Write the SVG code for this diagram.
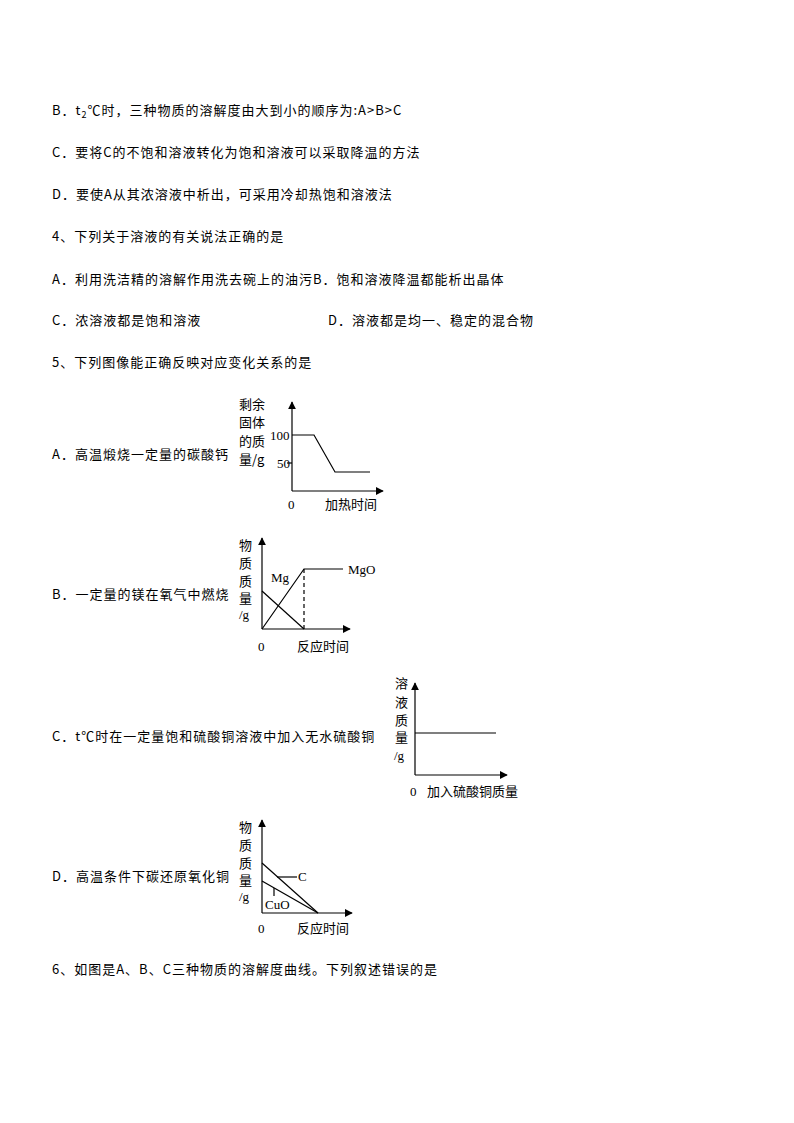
<svg xmlns="http://www.w3.org/2000/svg" width="794" height="1123" viewBox="0 0 794 1123">
<defs>
<style>
text{font-family:"Liberation Serif","Noto Sans CJK SC",serif;font-size:13px;fill:#000}
.c{font-family:"Noto Sans CJK SC",sans-serif;font-size:13px}
.m{letter-spacing:1px}
.l{stroke:#000;stroke-width:1.2;fill:none}
</style>
<marker id="ar" viewBox="0 0 10 10" refX="9" refY="5" markerWidth="8" markerHeight="8" orient="auto" markerUnits="userSpaceOnUse"><path d="M0,0L10,5L0,10z"/></marker>
</defs>
<rect width="794" height="1123" fill="#fff"/>
<g id="text">
<text class="c m" x="52" y="115">B．t<tspan font-size="9" dy="3">2</tspan><tspan dy="-3">℃时，三种物质的溶解度由大到小的顺序为:A&gt;B&gt;C</tspan></text>
<text class="c m" x="52" y="157">C．要将C的不饱和溶液转化为饱和溶液可以采取降温的方法</text>
<text class="c m" x="52" y="199">D．要使A从其浓溶液中析出，可采用冷却热饱和溶液法</text>
<text class="c m" x="52" y="241">4、下列关于溶液的有关说法正确的是</text>
<text class="c m" x="52" y="284">A．利用洗洁精的溶解作用洗去碗上的油污B．饱和溶液降温都能析出晶体</text>
<text class="c m" x="52" y="325">C．浓溶液都是饱和溶液</text>
<text class="c m" x="328" y="325">D．溶液都是均一、稳定的混合物</text>
<text class="c m" x="52" y="367">5、下列图像能正确反映对应变化关系的是</text>
<text class="c m" x="52" y="459">A．高温煅烧一定量的碳酸钙</text>
<text class="c m" x="52" y="599">B．一定量的镁在氧气中燃烧</text>
<text class="c m" x="52" y="741">C．t℃时在一定量饱和硫酸铜溶液中加入无水硫酸铜</text>
<text class="c m" x="52" y="881">D．高温条件下碳还原氧化铜</text>
<text class="c m" x="52" y="974">6、如图是A、B、C三种物质的溶解度曲线。下列叙述错误的是</text>
</g>
<g id="graphA">
<rect x="238" y="394" width="28" height="74" fill="#fff"/>
<line class="l" x1="292" y1="491" x2="292" y2="402" marker-end="url(#ar)"/>
<line class="l" x1="292" y1="491" x2="383" y2="491" marker-end="url(#ar)"/>
<polyline class="l" points="292,435 314,435 335,472 370,472"/>
<line class="l" x1="292" y1="463" x2="287" y2="463"/>
<text x="270" y="440">100</text><text x="277" y="468">50</text>
<text class="c" x="239" y="409">剩余</text><text class="c" x="239" y="427">固体</text><text class="c" x="239" y="446">的质</text><text class="c" x="239" y="464">量/g</text>
<text x="288" y="509">0</text><text class="c" x="325" y="509">加热时间</text>
</g>
<g id="graphB">
<rect x="238" y="534" width="20" height="90" fill="#fff"/>
<line class="l" x1="262" y1="629" x2="262" y2="538" marker-end="url(#ar)"/>
<line class="l" x1="262" y1="629" x2="350" y2="629" marker-end="url(#ar)"/>
<line class="l" x1="262" y1="591" x2="304" y2="629"/>
<polyline class="l" points="262,629 304,569 343,569"/>
<line class="l" x1="304" y1="569" x2="304" y2="629" stroke-dasharray="4,3"/>
<text x="271" y="582">Mg</text><text x="348" y="574">MgO</text>
<text class="c" x="239" y="550">物</text><text class="c" x="239" y="568">质</text><text class="c" x="239" y="586">质</text><text class="c" x="239" y="603">量</text><text x="239" y="619">/g</text>
<text x="258" y="651">0</text><text class="c" x="297" y="651">反应时间</text>
</g>
<g id="graphC">
<rect x="394" y="678" width="19" height="84" fill="#fff"/>
<line class="l" x1="415" y1="775" x2="415" y2="683" marker-end="url(#ar)"/>
<line class="l" x1="415" y1="775" x2="507" y2="775" marker-end="url(#ar)"/>
<line class="l" x1="415" y1="733" x2="496" y2="733"/>
<text class="c" x="395" y="688">溶</text><text class="c" x="395" y="707">液</text><text class="c" x="395" y="725">质</text><text class="c" x="395" y="742">量</text><text x="394" y="760">/g</text>
<text x="410" y="796">0</text><text class="c" x="427" y="796">加入硫酸铜质量</text>
</g>
<g id="graphD">
<rect x="238" y="815" width="20" height="90" fill="#fff"/>
<line class="l" x1="262" y1="913" x2="262" y2="820" marker-end="url(#ar)"/>
<line class="l" x1="262" y1="913" x2="352" y2="913" marker-end="url(#ar)"/>
<line class="l" x1="262" y1="863" x2="318" y2="913"/>
<line class="l" x1="262" y1="881" x2="318" y2="913"/>
<line class="l" x1="277" y1="877" x2="297" y2="877"/>
<line class="l" x1="274" y1="888" x2="274" y2="896"/>
<text x="298" y="881">C</text><text x="265" y="909">CuO</text>
<text class="c" x="239" y="832">物</text><text class="c" x="239" y="850">质</text><text class="c" x="239" y="868">质</text><text class="c" x="239" y="885">量</text><text x="239" y="901">/g</text>
<text x="258" y="933">0</text><text class="c" x="297" y="933">反应时间</text>
</g>
</svg>
